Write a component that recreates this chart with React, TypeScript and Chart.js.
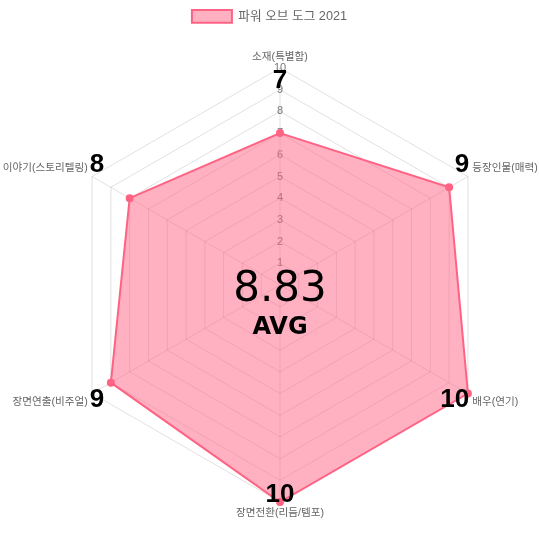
import React, { useEffect, useRef } from "react";
import { Chart, registerables } from "chart.js";

Chart.register(...registerables);

const categories = ["소재(특별함)", "등장인물(매력)", "배우(연기)", "장면전환(리듬/템포)", "장면연출(비주얼)", "이야기(스토리텔링)"];
const seriesLabel = "파워 오브 도그 2021";
const seriesValues = [7, 9, 10, 10, 9, 8];
const avgLabel = "AVG";

const FONT = "'Liberation Sans', Arial, 'Noto Sans CJK KR', sans-serif";
const CENTER_FONT = "'DejaVu Sans', sans-serif";
const LABEL_SIZE = 10.6;
const LABEL_PAD = 5;
const LABEL_COLOR = "#666";

function labelFont() {
  return `${LABEL_SIZE}px ${FONT}`;
}

// Chart.js 3 style fit: average of left/right radius reductions
function fitScale(scale: any) {
  const ctx = scale.ctx;
  const W = scale.maxWidth;
  const H = scale.maxHeight;
  const pt = 8;
  const D = Math.min(H - pt, W) / 2;
  const xC0 = W / 2;
  const n = categories.length;
  ctx.save();
  ctx.font = labelFont();
  let limL = 0, limR = W, angL = 0, angR = 0;
  for (let i = 0; i < n; i++) {
    const a = (2 * Math.PI * i) / n;
    const deg = Math.round((a * 180) / Math.PI);
    const x = xC0 + Math.sin(a) * (D + LABEL_PAD);
    const w = ctx.measureText(categories[i]).width;
    let start: number, end: number;
    if (deg === 0 || deg === 180) { start = x - w / 2; end = x + w / 2; }
    else if (deg < 180) { start = x; end = x + w; }
    else { start = x - w; end = x; }
    if (start < limL) { limL = start; angL = a; }
    if (end > limR) { limR = end; angR = a; }
  }
  ctx.restore();
  const redL = angL ? -limL / Math.abs(Math.sin(angL)) : 0;
  const redR = angR ? (limR - W) / Math.abs(Math.sin(angR)) : 0;
  const R = Math.max(D / 2, Math.round(D - (redL + redR) / 2));
  scale.drawingArea = R;
  scale.xCenter = Math.floor((redL + R + (W - redR - R)) / 2 + scale.left);
  scale.yCenter = Math.floor(scale.top + H / 2);
}

const overlayPlugin = {
  id: "overlay",
  afterDraw(chart: any) {
    const ctx = chart.ctx;
    const scale = chart.scales.r;
    const n = categories.length;
    const h = LABEL_SIZE * 1.2;
    const items: any[] = [];
    ctx.save();
    ctx.font = labelFont();
    ctx.fillStyle = LABEL_COLOR;
    ctx.textBaseline = "middle";
    for (let i = 0; i < n; i++) {
      const a = scale.getIndexAngle(i);
      const deg = ((Math.round((a * 180) / Math.PI) % 360) + 360) % 360;
      const p = scale.getPointPosition(i, scale.drawingArea + LABEL_PAD);
      const w = ctx.measureText(categories[i]).width;
      let align: CanvasTextAlign, left: number, right: number;
      if (deg === 0 || deg === 180) { align = "center"; left = p.x - w / 2; right = p.x + w / 2; }
      else if (deg < 180) { align = "left"; left = p.x; right = p.x + w; }
      else { align = "right"; left = p.x - w; right = p.x; }
      let y = p.y;
      if (deg === 90 || deg === 270) y -= h / 2;
      else if (deg > 270 || deg < 90) y -= h;
      ctx.textAlign = align;
      ctx.fillText(categories[i], p.x, y + h / 2);
      items.push({ x: p.x, align, left, right, top: y, bottom: y + h });
    }

    ctx.fillStyle = "#000";
    ctx.font = `bold 26px ${FONT}`;
    items.forEach((it: any, i: number) => {
      const txt = String(seriesValues[i]);
      if (it.align === "center") {
        ctx.textAlign = "center";
        if (it.top < scale.yCenter) {
          ctx.textBaseline = "top";
          ctx.fillText(txt, it.x, it.bottom + 5);
        } else {
          ctx.textBaseline = "alphabetic";
          ctx.fillText(txt, it.x, it.top - 5);
        }
      } else if (it.align === "left") {
        ctx.textAlign = "right";
        ctx.textBaseline = "alphabetic";
        ctx.fillText(txt, it.left - 3, it.bottom - 2);
      } else {
        ctx.textAlign = "left";
        ctx.textBaseline = "alphabetic";
        ctx.fillText(txt, it.right + 2, it.bottom - 2);
      }
    });

    const avg = seriesValues.reduce((s, v) => s + v, 0) / seriesValues.length;
    ctx.textAlign = "center";
    ctx.textBaseline = "middle";
    ctx.font = `42px ${CENTER_FONT}`;
    ctx.fillText(avg.toFixed(2), scale.xCenter, scale.yCenter + 5);
    ctx.font = `bold 24px ${CENTER_FONT}`;
    ctx.fillText(avgLabel, scale.xCenter, scale.yCenter + 43);
    ctx.restore();
  },
};

export default function App() {
  const ref = useRef<HTMLCanvasElement | null>(null);
  useEffect(() => {
    document.body.style.margin = "0";
    if (!ref.current) return;
    const options: any = {
      animation: false,
      responsive: false,
      devicePixelRatio: 1,
      layout: { padding: { left: 2, right: 3, bottom: 2 } },
      plugins: {
        legend: {
          position: "top",
          labels: { font: { family: FONT, size: 12.7 }, color: "#666" },
        },
        tooltip: { enabled: false },
      },
      scales: {
        r: {
          min: 0,
          max: 10,
          afterFit: fitScale,
          ticks: {
            stepSize: 1,
            showLabelBackdrop: false,
            color: "#777",
            font: { family: FONT, size: 11 },
          },
          pointLabels: { display: false },
          grid: { color: "rgba(0,0,0,0.12)" },
          angleLines: { color: "rgba(0,0,0,0.12)" },
        },
      },
    };
    const chart = new Chart(ref.current, {
      type: "radar",
      data: {
        labels: categories,
        datasets: [
          {
            label: seriesLabel,
            data: seriesValues,
            backgroundColor: "rgba(255, 99, 132, 0.5)",
            borderColor: "rgb(255, 99, 132)",
            pointBackgroundColor: "rgb(255, 99, 132)",
            borderWidth: 2,
            pointRadius: 3,
          },
        ],
      },
      options,
      plugins: [overlayPlugin],
    });
    return () => chart.destroy();
  }, []);
  return <canvas ref={ref} width={540} height={540} style={{ display: "block" }} />;
}
